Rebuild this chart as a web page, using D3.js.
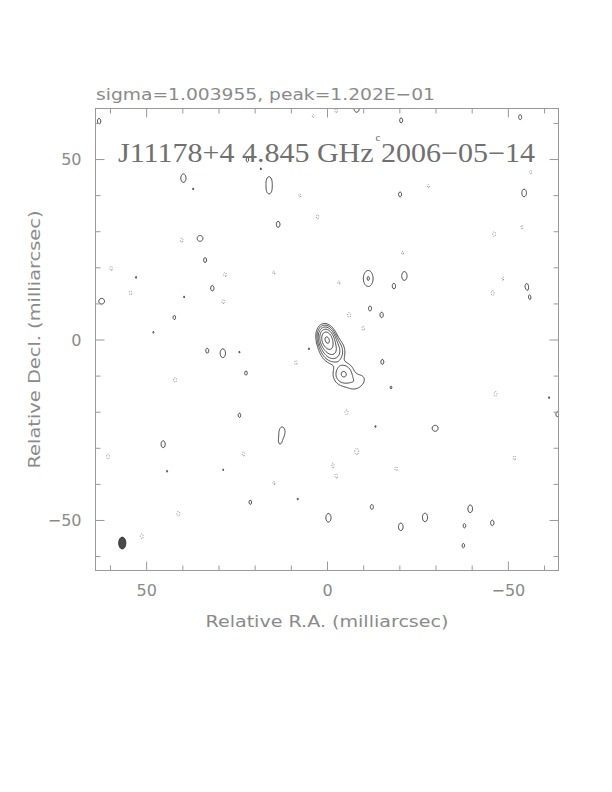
<!DOCTYPE html>
<html>
<head>
<meta charset="utf-8">
<script src="https://cdn.jsdelivr.net/npm/d3@7"></script>
<style>
  body { margin: 0; background: #fff; }
  text { font-family: "DejaVu Sans", "Liberation Sans", sans-serif; }
</style>
</head>
<body>
<svg id="map" width="612" height="792"></svg>
<script>
// header numbers of the map
var sigma = 1.003955;
var peakJy = 1.202e-1;
var sourceName = "J11178+4";
var freqLabel = "4.845 GHz";
var obsDate = "2006\u221205\u221214";

// axes (milliarcsec)
var majorTicks = [50, 0, -50];
var minorTicks = [-60, -40, -30, -20, -10, 10, 20, 30, 40, 60];

// contour levels, in units of sigma
var contourLevels = [3, 6, 12, 24, 48, 96];
var negLevels = [3];

// restoring beam: ra, dec, major, minor (FWHM mas), pa (deg)
var beam = [56.6, -56.4, 3.3, 2.0, 0];

// core + jet: ra, dec, peak (sigma), major, minor, pa
var coreComps = [
  [0.0, 0.0, 104, 4.0, 2.6, 15],
  [-1.5, -3.0, 25, 4.4, 3.8, 25],
  [-4.6, -9.6, 13, 4.4, 4.0, 0],
  [-8.4, -11.8, 5, 5.0, 3.4, -50]
];

// positive noise peaks: ra, dec, peak (sigma) [, major, minor]
var posPeaks = [
  [63.0, 60.5, 3.5], [22.0, 49.8, 3.3], [18.3, 47.3, 3.08], [39.7, 44.7, 4.3],
  [37.0, 41.7, 3.08], [16.0, 44.0, 3.9], [16.0, 41.4, 3.9], [13.5, 31.9, 3.6],
  [35.1, 28.0, 4.0, 2.5, 2.5], [33.7, 22.0, 3.4], [52.8, 17.2, 3.1], [31.7, 14.2, 3.5],
  [39.5, 11.8, 3.08], [62.3, 10.6, 3.9, 2.6, 2.6], [42.2, 6.1, 3.3], [48.0, 2.0, 3.08],
  [-8.2, 64.2, 4.5], [-20.5, 60.7, 3.4], [-53.4, 61.6, 3.4], [-20.2, 40.2, 3.4],
  [-54.5, 40.6, 4.0], [-11.4, 16.9, 6.3, 4.3, 2.6], [-21.4, 17.6, 4.4], [-18.5, 14.8, 3.5],
  [-55.2, 14.8, 3.4], [-56.1, 11.5, 3.1], [-11.9, 8.6, 3.4], [-15.1, 6.8, 3.5],
  [33.1, -3.1, 3.4], [28.8, -3.8, 4.4], [24.2, -3.5, 3.08], [22.4, -9.3, 3.3],
  [5.0, -2.6, 3.08], [24.2, -21.0, 3.3], [12.4, -25.5, 4.5], [13.0, -28.4, 3.1],
  [45.3, -29.0, 3.8], [28.7, -36.1, 3.08], [44.2, -36.5, 3.08], [15.7, -43.2, 3.08],
  [8.1, -44.2, 3.08], [21.2, -45.1, 3.3], [-0.4, -49.4, 4.3], [-15.3, -6.2, 3.4],
  [-17.7, -13.3, 3.15], [-61.4, -16.1, 3.08], [-63.7, -20.7, 3.4], [-13.4, -24.1, 3.08],
  [-29.9, -24.6, 4.0, 2.6, 2.6], [-12.4, -46.4, 3.4], [-27.1, -49.3, 4.3], [-39.6, -46.9, 4.0],
  [-20.4, -51.9, 4.0], [-38.0, -51.6, 3.3], [-45.7, -50.8, 3.5], [-37.7, -57.1, 3.3]
];

// negative noise dips: ra, dec, depth (sigma)
var negPeaks = [
  [-2.5, 63.4, -3.3], [3.8, 61.9, -3.15], [7.5, 39.9, -3.2], [2.6, 34.0, -3.3],
  [40.2, 27.5, -3.3], [59.7, 19.7, -3.3], [28.2, 18.0, -3.3], [14.7, 18.5, -3.2],
  [54.3, 12.9, -3.3], [28.7, 10.5, -3.3], [-56.3, 46.4, -3.2], [-28.0, 42.5, -3.2],
  [-53.9, 31.2, -3.2], [-46.2, 29.2, -3.4], [-20.9, 24.0, -3.2], [-3.3, 15.8, -3.2],
  [-48.6, 16.9, -3.2], [-45.8, 12.9, -3.4], [-6.1, 6.8, -3.4], [-10.0, 3.1, -3.3],
  [8.6, -6.4, -3.3], [42.0, -11.2, -3.4], [60.5, -32.4, -3.4], [23.1, -31.7, -3.3],
  [14.7, -39.8, -3.3], [41.1, -48.3, -3.4], [51.2, -54.5, -3.4], [-46.6, -15.1, -3.4],
  [-5.4, -20.2, -3.4], [-8.2, -31.0, -3.7], [-51.8, -32.8, -3.3], [-1.6, -34.7, -3.15],
  [-2.6, -38.0, -3.15], [-19.1, -35.8, -3.3]
];

var svg = d3.select("#map");
var plotL = 95.5, plotR = 558.5, plotT = 108.5, plotB = 570.5;
var half = 64;

var x = d3.scaleLinear().domain([half, -half]).range([plotL, plotR]);
var y = d3.scaleLinear().domain([-half, half]).range([plotB, plotT]);

// build the map on a grid
var step = 0.25;
var n = Math.round(2 * half / step) + 1;
var grid = new Array(n * n).fill(0);

function addGauss(ra, dec, peak, maj, mn, pa) {
  var t = pa * Math.PI / 180, c = Math.cos(t), s = Math.sin(t);
  var k = 4 * Math.LN2, r = 2 * maj;
  var i0 = Math.max(0, Math.floor((half - ra - r) / step)),
      i1 = Math.min(n - 1, Math.ceil((half - ra + r) / step)),
      j0 = Math.max(0, Math.floor((half - dec - r) / step)),
      j1 = Math.min(n - 1, Math.ceil((half - dec + r) / step));
  for (var j = j0; j <= j1; j++) {
    for (var i = i0; i <= i1; i++) {
      var dx = half - i * step - ra, dy = half - j * step - dec;
      var u = dx * c - dy * s, v = dx * s + dy * c;
      grid[j * n + i] += peak * Math.exp(-k * (u * u / (mn * mn) + v * v / (maj * maj)));
    }
  }
}

coreComps.forEach(function(d) { addGauss(d[0], d[1], d[2], d[3], d[4], d[5]); });
posPeaks.concat(negPeaks).forEach(function(d) {
  addGauss(d[0], d[1], d[2], d[3] || beam[2], d[4] || beam[3], beam[4]);
});

var toPx = d3.geoTransform({
  point: function(gx, gy) {
    this.stream.point(x(half - (gx - 0.5) * step), y(half - (gy - 0.5) * step));
  }
});
var path = d3.geoPath(toPx);

svg.append("clipPath").attr("id", "frame")
  .append("rect").attr("x", plotL).attr("y", plotT)
  .attr("width", plotR - plotL).attr("height", plotB - plotT);

var plot = svg.append("g").attr("clip-path", "url(#frame)");

var pos = d3.contours().size([n, n])
  .thresholds(contourLevels.map(function(l) { return l * sigma; }))(grid);
plot.selectAll("path.pos").data(pos).enter().append("path")
  .attr("class", "pos")
  .attr("d", path)
  .attr("fill", "none")
  .attr("stroke", "#333")
  .attr("stroke-width", 0.9);

var neg = d3.contours().size([n, n])
  .thresholds(negLevels.map(function(l) { return l * sigma; }))(grid.map(function(v) { return -v; }));
plot.selectAll("path.neg").data(neg).enter().append("path")
  .attr("class", "neg")
  .attr("d", path)
  .attr("fill", "none")
  .attr("stroke", "#666")
  .attr("stroke-width", 0.8)
  .attr("stroke-dasharray", "1,1.5");

// beam
plot.append("ellipse")
  .attr("cx", x(beam[0])).attr("cy", y(beam[1]))
  .attr("rx", x(0) - x(beam[3] / 2)).attr("ry", y(0) - y(beam[2] / 2))
  .attr("fill", "#4a4a4a").attr("stroke", "#222").attr("stroke-width", 0.8);

// frame
svg.append("rect")
  .attr("x", plotL).attr("y", plotT)
  .attr("width", plotR - plotL).attr("height", plotB - plotT)
  .attr("fill", "none").attr("stroke", "#999").attr("stroke-width", 1);

// ticks on all four sides, pointing in
function ticks(axis, values, len, tx, fmt) {
  var g = svg.append("g").attr("transform", tx)
    .call(axis.tickValues(values).tickSizeInner(-len).tickSizeOuter(0)
      .tickPadding(0).tickFormat(fmt || ""));
  g.select(".domain").remove();
  g.selectAll("line").attr("stroke", "#999");
  g.selectAll("text").attr("fill", "#8a8a8a").attr("font-size", 16)
    .style("font-family", "'DejaVu Sans', sans-serif");
  return g;
}
var fmt = function(d) { return d < 0 ? "\u2212" + (-d) : d; };
ticks(d3.axisBottom(x), minorTicks, 5, "translate(0," + plotB + ")");
ticks(d3.axisTop(x), minorTicks, 5, "translate(0," + plotT + ")");
ticks(d3.axisLeft(y), minorTicks, 5, "translate(" + plotL + ",0)");
ticks(d3.axisRight(y), minorTicks, 5, "translate(" + plotR + ",0)");
var bx = ticks(d3.axisBottom(x), majorTicks, 9, "translate(0," + plotB + ")", fmt);
bx.selectAll("text").attr("y", 14).attr("dy", "0.71em");
ticks(d3.axisTop(x), majorTicks, 9, "translate(0," + plotT + ")");
var ly = ticks(d3.axisLeft(y), majorTicks, 9, "translate(" + plotL + ",0)", fmt);
ly.selectAll("text").attr("x", -14).attr("dy", "0.35em");
ticks(d3.axisRight(y), majorTicks, 9, "translate(" + plotR + ",0)");

// titles
svg.append("text")
  .attr("x", 96).attr("y", 99.5)
  .attr("font-size", 16.5).attr("fill", "#8a8a8a")
  .attr("textLength", 339).attr("lengthAdjust", "spacingAndGlyphs")
  .text("sigma=" + sigma.toFixed(6) + ", peak=" + peakJy.toExponential(3).toUpperCase().replace("E-", "E\u22120"));

svg.append("text")
  .attr("x", 118).attr("y", 162)
  .attr("font-size", 27).attr("fill", "#707070")
  .attr("textLength", 417).attr("lengthAdjust", "spacingAndGlyphs")
  .style("font-family", "'Liberation Serif', 'DejaVu Serif', serif")
  .text(sourceName + " " + freqLabel + "  " + obsDate);

svg.append("text")
  .attr("x", 378).attr("y", 141)
  .attr("font-size", 11).attr("fill", "#666")
  .attr("text-anchor", "middle")
  .style("font-family", "'Liberation Serif', serif")
  .text("c");

svg.append("text")
  .attr("x", (plotL + plotR) / 2).attr("y", 627)
  .attr("text-anchor", "middle").attr("font-size", 16.5).attr("fill", "#8a8a8a")
  .attr("textLength", 243).attr("lengthAdjust", "spacingAndGlyphs")
  .text("Relative R.A. (milliarcsec)");

svg.append("text")
  .attr("transform", "translate(40," + (plotT + plotB) / 2 + ") rotate(-90)")
  .attr("text-anchor", "middle").attr("font-size", 16.5).attr("fill", "#8a8a8a")
  .attr("textLength", 258).attr("lengthAdjust", "spacingAndGlyphs")
  .text("Relative Decl. (milliarcsec)");
</script>
</body>
</html>
